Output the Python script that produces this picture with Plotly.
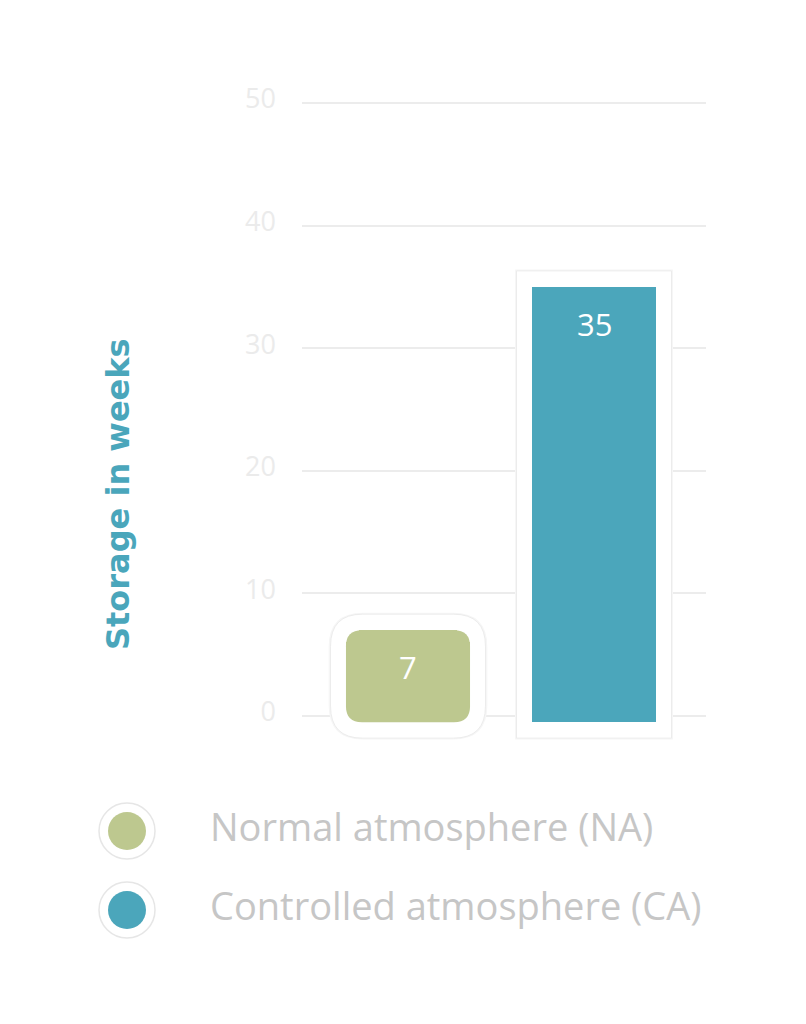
import plotly.graph_objects as go

# ---- data ----
categories = ["Normal atmosphere (NA)", "Controlled atmosphere (CA)"]
weeks = [7, 35]
colors = ["#bdc88f", "#4ba6bb"]
y_ticks = [0, 10, 20, 30, 40, 50]
y_title = "Storage in weeks"

FONT = "Open Sans, Lato, sans-serif"
OFF = 8                      # page body margin
W, H = 806 - OFF, 1024 - OFF
M_T, M_B = 30, 30
PH = H - M_T - M_B

def fx(px):   # page pixel x -> paper fraction
    return (px - OFF) / W

def fy(py):   # page pixel y -> paper fraction
    return (H - M_B - (py - OFF)) / PH

X_PX = 186.0     # px per category step
Y_PX = 12.26     # px per week

def rounded_path(x0, x1, y0, y1, r_px):
    rx, ry = r_px / X_PX, r_px / Y_PX
    return (f"M {x0+rx},{y0} L {x1-rx},{y0} Q {x1},{y0} {x1},{y0+ry} "
            f"L {x1},{y1-ry} Q {x1},{y1} {x1-rx},{y1} "
            f"L {x0+rx},{y1} Q {x0},{y1} {x0},{y1-ry} "
            f"L {x0},{y0+ry} Q {x0},{y0} {x0+rx},{y0} Z")

fig = go.Figure()
xs = list(range(len(categories)))
base_off = -0.5
bw = 0.667

shapes = []
pad_x = 0.083
pad_top = 16 / Y_PX
pad_bot = base_off - 16 / Y_PX
for i, v in enumerate(weeks):
    x0, x1 = xs[i] - bw / 2 - pad_x, xs[i] + bw / 2 + pad_x
    y0, y1 = pad_bot, v + pad_top
    if i == 0:
        shapes.append(dict(type="path", path=rounded_path(x0 - 0.01, x1 + 0.01, y0 - 0.12, y1 + 0.12, 34),
                           xref="x", yref="y", fillcolor="#f6f6f6", line=dict(width=0), layer="between"))
        shapes.append(dict(type="path", path=rounded_path(x0, x1, y0, y1, 32),
                           xref="x", yref="y", fillcolor="white", line=dict(color="#ececec", width=1), layer="between"))
        # lower rounded part of the NA bar
        shapes.append(dict(type="path", path=rounded_path(xs[i] - bw / 2, xs[i] + bw / 2, base_off, v, 16),
                           xref="x", yref="y", fillcolor=colors[i], line=dict(width=0), layer="between"))
    else:
        shapes.append(dict(type="rect", x0=x0 - 0.008, x1=x1 + 0.008, y0=y0 - 0.12, y1=y1 + 0.12,
                           xref="x", yref="y", fillcolor="#f6f6f6", line=dict(width=0), layer="between"))
        shapes.append(dict(type="rect", x0=x0, x1=x1, y0=y0, y1=y1,
                           xref="x", yref="y", fillcolor="white", line=dict(color="#ececec", width=1), layer="between"))

# NA bar (top rounded) and CA bar
na = weeks[0]
fig.add_trace(go.Bar(x=[xs[0]], y=[na / 2], base=[na / 2], width=bw,
                     marker=dict(color=colors[0], cornerradius=16, line=dict(width=0)),
                     hoverinfo="skip", showlegend=False))
fig.add_trace(go.Bar(x=[xs[1]], y=[weeks[1] - base_off], base=[base_off], width=bw,
                     marker=dict(color=colors[1], line=dict(width=0)),
                     hoverinfo="skip", showlegend=False))

annotations = []
for i, v in enumerate(weeks):
    annotations.append(dict(x=xs[i], y=v, xref="x", yref="y", text=str(v), showarrow=False,
                            yshift=-37, yanchor="middle",
                            font=dict(family=FONT, size=31, color="white")))

annotations.append(dict(x=fx(118), y=fy(494), xref="paper", yref="paper",
                        xanchor="center", yanchor="middle",
                        text=f"<b>{y_title}</b>", textangle=-90, showarrow=False,
                        font=dict(family="DejaVu Sans, sans-serif", size=32, color="#4aa6bb")))

# custom legend on its own hidden axes
rows = list(range(len(categories)))
fig.add_trace(go.Scatter(x=[0] * len(rows), y=rows, xaxis="x2", yaxis="y2", mode="markers",
                         marker=dict(size=56, color="white", line=dict(color="#e6e6e6", width=1.5)),
                         hoverinfo="skip", showlegend=False))
fig.add_trace(go.Scatter(x=[0] * len(rows), y=rows, xaxis="x2", yaxis="y2", mode="markers",
                         marker=dict(size=38, color=colors, line=dict(width=0)),
                         hoverinfo="skip", showlegend=False))
fig.add_trace(go.Scatter(x=[1] * len(rows), y=rows, xaxis="x2", yaxis="y2", mode="text",
                         text=categories, textposition="middle right",
                         textfont=dict(family=FONT, size=38, color="#c6c6c6"),
                         hoverinfo="skip", showlegend=False))

fig.update_layout(
    width=W, height=H,
    margin=dict(l=0, r=0, t=M_T, b=M_B),
    paper_bgcolor="white", plot_bgcolor="white",
    barmode="overlay", bargap=0,
    shapes=shapes, annotations=annotations,
    xaxis=dict(domain=[fx(302), fx(706)], range=[(302 - 408) / X_PX, 1 + (706 - 594) / X_PX],
               showgrid=False, zeroline=False, showticklabels=False, showline=False, fixedrange=True),
    yaxis=dict(domain=[fy(716 + 3 * Y_PX), fy(103 - 3 * Y_PX)], range=[-3, 53],
               tickvals=y_ticks, ticktext=[str(t) for t in y_ticks],
               showgrid=True, gridcolor="#ececec", gridwidth=2, zeroline=False, showline=False,
               tickfont=dict(family=FONT, size=27, color="#ebebeb"),
               ticklabelstandoff=25, ticklabelshift=-4, ticks=""),
    xaxis2=dict(domain=[0, 1], range=[(OFF - 127) / 83, (806 - 127) / 83], anchor="y2",
                visible=False, fixedrange=True),
    yaxis2=dict(domain=[fy(950), fy(790)], range=[1 + 40 / 79, -41 / 79], anchor="x2",
                visible=False, fixedrange=True),
    showlegend=False,
)

fig.write_html("out.html")
